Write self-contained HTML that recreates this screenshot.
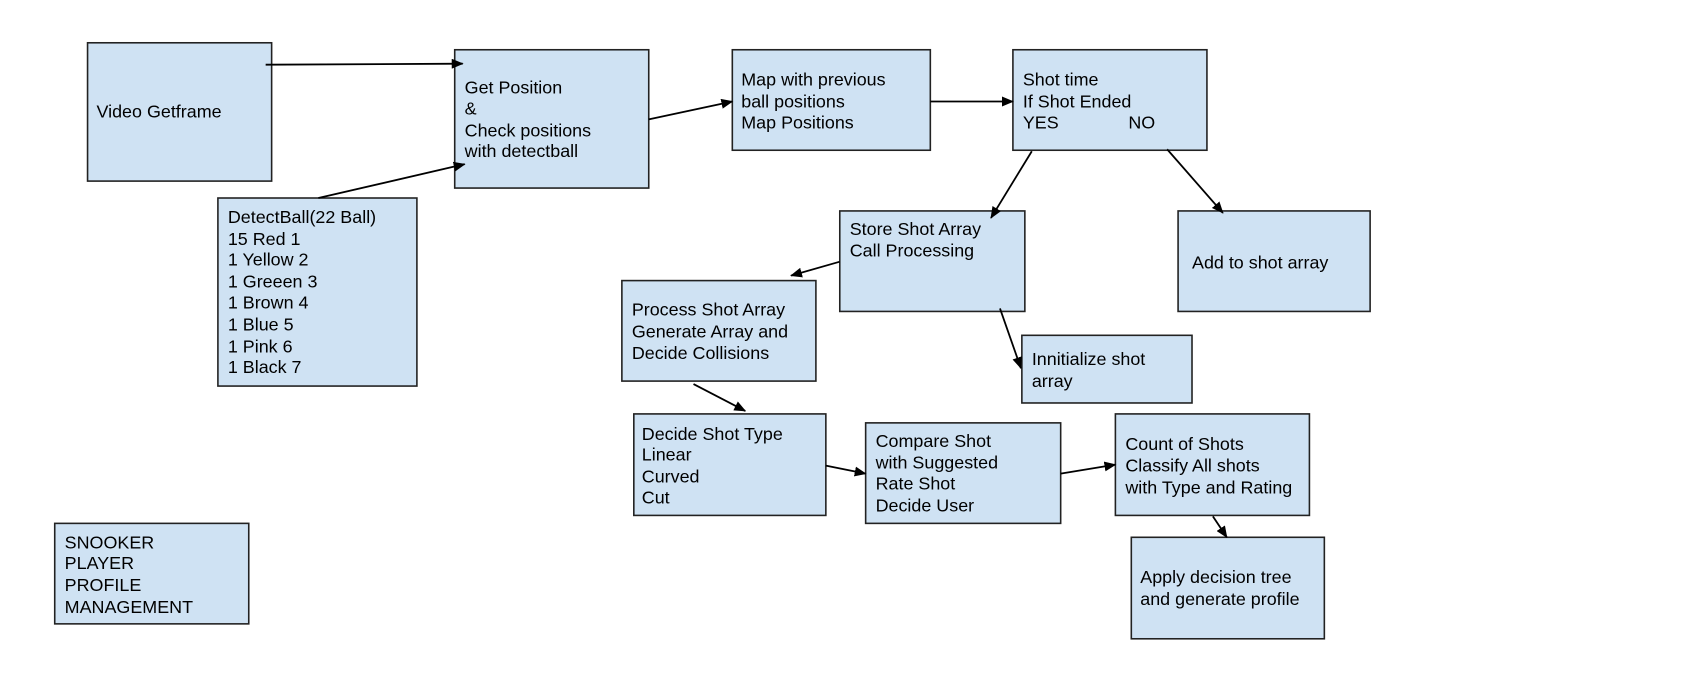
<!DOCTYPE html>
<html><head><meta charset="utf-8"><style>
html,body{margin:0;padding:0;background:#fff;}
svg{display:block}
text{font-family:"Liberation Sans",Arial,sans-serif;font-size:18px;fill:#000;dominant-baseline:central}
rect{fill:#cfe2f3;stroke:#222;stroke-width:1.6}
line{stroke:#000;stroke-width:1.8;marker-end:url(#a)}
</style></head><body>
<svg width="1686" height="691" viewBox="0 0 1686 691">
<defs><marker id="a" markerWidth="12" markerHeight="10" refX="11" refY="5" orient="auto" markerUnits="userSpaceOnUse"><path d="M0,0 L12,5 L0,10 z" fill="#000"/></marker></defs>
<g transform="scale(0.995)">
<rect x="88" y="43" width="185" height="139"/>
<rect x="457" y="50" width="195" height="139"/>
<rect x="736" y="50" width="199" height="101"/>
<rect x="1018" y="50" width="195" height="101"/>
<rect x="219" y="199" width="200" height="189"/>
<rect x="844" y="212" width="186" height="101"/>
<rect x="1184" y="212" width="193" height="101"/>
<rect x="625" y="282" width="195" height="101"/>
<rect x="1027" y="337" width="171" height="68"/>
<rect x="637" y="416" width="193" height="102"/>
<rect x="870" y="425" width="196" height="101"/>
<rect x="1121" y="416" width="195" height="102"/>
<rect x="1137" y="540" width="194" height="102"/>
<rect x="55" y="526" width="195" height="101"/>

<line x1="267" y1="65" x2="465" y2="64"/>
<line x1="320" y1="199" x2="467" y2="165"/>
<line x1="652" y1="120" x2="736" y2="102"/>
<line x1="935" y1="102" x2="1018" y2="102"/>
<line x1="1037" y1="152" x2="996" y2="219"/>
<line x1="1173" y1="150" x2="1229" y2="214"/>
<line x1="844" y1="263" x2="795" y2="277"/>
<line x1="1005" y1="310" x2="1026" y2="370"/>
<line x1="697" y1="386" x2="749" y2="413"/>
<line x1="830" y1="468" x2="870" y2="476"/>
<line x1="1066" y1="476" x2="1121" y2="467"/>
<line x1="1219" y1="519" x2="1233" y2="540"/>

<text x="97" y="112">Video Getframe</text>
<text x="467" y="88"> Get Position</text>
<text x="467" y="109">&amp;</text>
<text x="467" y="131">Check positions</text>
<text x="467" y="152">with detectball</text>
<text x="745" y="80">Map with previous</text>
<text x="745" y="102">ball positions</text>
<text x="745" y="123">Map Positions</text>
<text x="1028" y="80">Shot time</text>
<text x="1028" y="102">If Shot Ended</text>
<text x="1028" y="123">YES</text>
<text x="1134" y="123">NO</text>
<text x="229" y="218">DetectBall(22 Ball)</text>
<text x="229" y="240">15 Red  1</text>
<text x="229" y="261">1 Yellow 2</text>
<text x="229" y="283">1 Greeen 3</text>
<text x="229" y="304">1 Brown 4</text>
<text x="229" y="326">1 Blue 5</text>
<text x="229" y="348">1 Pink 6</text>
<text x="229" y="369">1 Black 7</text>
<text x="854" y="230">Store Shot Array</text>
<text x="854" y="252">Call Processing</text>
<text x="1198" y="264">Add to shot array</text>
<text x="635" y="311">Process Shot Array</text>
<text x="635" y="333">Generate Array and</text>
<text x="635" y="355">Decide Collisions</text>
<text x="1037" y="361">Innitialize shot</text>
<text x="1037" y="383">array</text>
<text x="645" y="436">Decide Shot Type</text>
<text x="645" y="457">Linear</text>
<text x="645" y="479">Curved</text>
<text x="645" y="500">Cut</text>
<text x="880" y="443">Compare Shot</text>
<text x="880" y="465">with Suggested</text>
<text x="880" y="486">Rate Shot</text>
<text x="880" y="508">Decide User</text>
<text x="1131" y="446">Count of Shots</text>
<text x="1131" y="468">Classify All shots</text>
<text x="1131" y="490">with Type and Rating</text>
<text x="1146" y="580">Apply decision tree</text>
<text x="1146" y="602">and generate profile</text>
<text x="65" y="545">SNOOKER</text>
<text x="65" y="566">PLAYER</text>
<text x="65" y="588">PROFILE</text>
<text x="65" y="610">MANAGEMENT</text>
</g>
</svg>
</body></html>
